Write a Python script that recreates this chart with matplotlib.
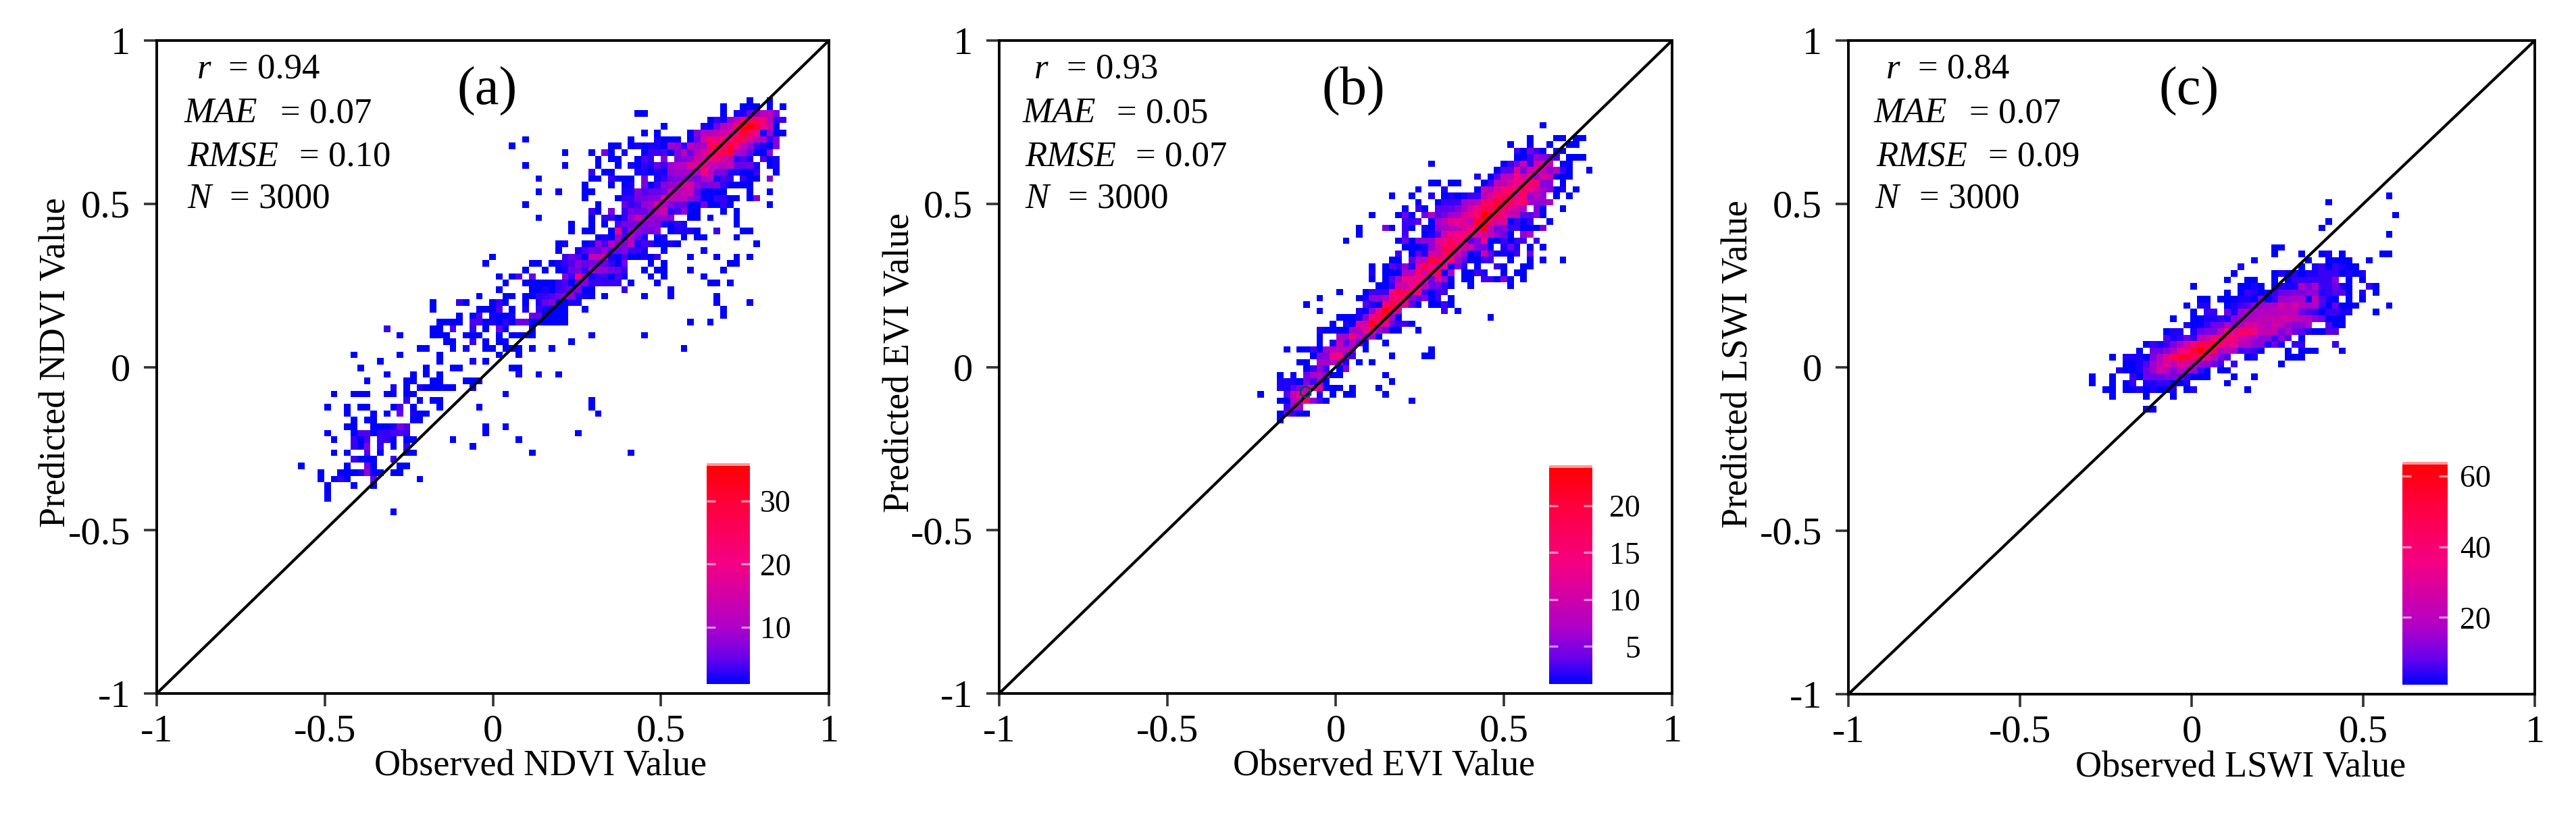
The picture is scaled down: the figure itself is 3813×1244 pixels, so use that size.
import numpy as np
import matplotlib
matplotlib.use("Agg")
import matplotlib.pyplot as plt
from matplotlib.colors import LinearSegmentedColormap, Normalize

plt.rcParams['font.family'] = ['Liberation Serif', 'DejaVu Serif']

W, H = 3813, 1244

# density cells: row -> "first_column:counts", one base-36 char per cell
ndvi_rows = {
    8: "87:1 90:1", 9: "83:1 86:111 90:1 92:1", 10: "70:11 83:1 85:2258bc6",
    11: "81:1328cmooma33", 12: "74:1 80:216bdowzuie1", 13: "71:1 73:1 78:17abcegmuqi2811",
    14: "53:1 69:1 73:2111 78:15gmimkqqgca37", 15: "51:1 66:11 69:121221983c9aosmumc83217",
    16: "59:1 63:1 65:61 68:2 71:133417b5bgooqua95118", 17: "64:1 66:11 70:143 74:7 76:678egkmgc342 89:412",
    18: "53:1 59:1 64:1 67:1 69:2132539abhhidcbd5562 90:12", 19: "63:3 65:11 70:221228999alc6622113 91:1",
    20: "55:1 63:11 66:3111 71:6 73:2367886ab243 86:311 90:6", 21: "62:1 66:1 68:12 71:613789gf866731111",
    22: "55:1 58:1 62:11 68:2274556dcde5111 83:1 87:1 90:1", 23: "62:1 67:1336677idbc86113311 87:17",
    24: "53:1 64:1 68:53489gb7551161131 90:1", 25: "63:31 66:6 68:36558cf34811 83:1 85:1",
    26: "55:1 63:1 65:33138e98887 78:11 81:1 85:1", 27: "60:1 63:1 65:1 67:46667872132 85:1",
    28: "60:1 62:11 66:1i388658 75:12221 82:3 86:11", 29: "64:12184b52 73:12 77:1 79:11 85:1",
    30: "58:12 62:1284a87c2431121 88:1", 31: "58:1 61:24658557332 74:1 80:1",
    32: "48:1 59:3541ddd21411213 78:1 82:1 85:1 87:1", 33: "47:1 54:11 57:123475665316 72:1 74:1 84:11",
    34: "53:1 56:1 58:12563988653 71:1 73:11 78:1 83:1", 35: "49:1 51:14 54:5 59:73i8233141 72:1 74:1 80:1",
    36: "50:1 53:11111 58:3415733333 69:1 73:1 81:11 84:1", 37: "49:1 54:1121345711 68:3 75:1",
    38: "46:1 50:11 53:11334688221 65:1 71:1 75:1 82:1", 39: "39:1 43:31 48:131 53:1 55:2571122 82:1 87:1",
    40: "39:1 46:111 49:4 51:1 53:2 55:32111 62:1 83:1", 41: "43:1 45:14 48:2112 54:551111 83:1",
    42: "40:1111 45:441213155111111 78:1 81:1", 43: "32:3 39:11 42:4 45:3 47:1 49:51 54:1",
    44: "34:1 39:111 44:111 49:1 51:1111 63:1 71:1", 45: "41:11 45:3 47:1 49:11 60:1",
    46: "37:11 42:1 44:2 47:11 50:111 54:1 57:1 77:1", 47: "27:1 34:1 40:1 49:1 52:1",
    48: "31:1 40:1 45:2 47:1", 49: "28:1 38:1 42:11 51:11", 50: "32:1 36:1 38:1 40:1 52:2 55:1 58:1",
    51: "29:1 35:11 39:11 44:111", 52: "33:2 35:1 37:211111 45:1", 53: "24:1 27:111 32:11 35:11 50:1",
    54: "35:3 37:1 39:11 63:1", 55: "23:1 26:1 28:11 33:14 36:1 40:1 46:1 63:1", 56: "26:1 30:1 32:1 34:5 36:211 64:1",
    57: "27:1 29:11 36:11", 58: "26:11 30:111 33:264 47:1 50:1", 59: "23:1 27:144 30:1 31:33 33:44 35:3 47:1 61:1",
    60: "24:1 27:314 31:331 35:11 42:1 52:1", 61: "27:317 31:3 33:1 35:3 45:1", 62: "24:1 26:1 29:4 31:1 35:11 54:1 69:1",
    63: "27:3111 33:3", 64: "19:1 26:1 29:61 34:11", 65: "22:1 25:111 28:2811 33:11", 66: "22:1 24:131 30:5 37:1",
    67: "23:1 27:1 30:1", 68: "23:1", 69: "23:1", 71: "33:1",
}

evi_rows = {
    -1: "43:1", 1: "41:1 45:11 48:11", 2: "38:1 41:1 44:1 47:11", 3: "39:31531 45:21", 4: "39:1137653 47:111",
    5: "26:1 37:135c3ceb 46:11", 6: "36:144f5dfb7931 50:1", 7: "33:2 35:14bahdg8ec111",
    8: "26:11 29:11 34:13aaegijk66 46:1", 9: "24:1 28:2 33:1c9eikhmhc8612 48:1",
    10: "20:1 23:1 26:2 28:121233aeklmfk7a7 45:1 47:1", 11: "24:1 27:133389alkqmmhk8778",
    12: "22:1 24:31 27:44468dhnmolec9 42:61 46:1", 13: "17:1 21:151 25:594588egjuqofbb4461",
    14: "22:334 26:18afgebqqmdf1313 44:1", 15: "15:1 19:51 22:31 25:21789aeimsb56331115",
    16: "15:1 22:3 25:124dghjieeb751 40:7a", 17: "13:1 21:151677fglih46g113133 42:3",
    18: "22:111 25:27dlmidc651 37:252 41:1 43:1", 19: "21:3 23:142cclnc712c51213 41:5",
    20: "20:11 23:49apmgh841133 38:1 41:1 43:1 46:1", 21: "17:1 19:14372fnhef262 33:1 36:31 40:11",
    22: "17:2 19:11199kdkm18 31:1132 37:1 39:11", 23: "17:1 19:148gghg5e81 31:11 34:33161 40:1",
    24: "18:113ccgib5531 32:1 38:1", 25: "12:1 16:1333ioklg3133", 26: "9:1 15:12779ijm64613 29:1",
    27: "7:1 16:421kokf41 26:1131", 28: "9:1 15:217gume 28:3 30:1", 29: "12:11126imo81 35:1",
    30: "11:1 13:21eesjf4331", 31: "9:2111189gg8511 24:1", 32: "9:1 12:88i9881", 33: "9:1 11:2b4961 19:1",
    34: "4:1 6:11 8:3189aa8 16:1 26:1", 35: "8:166gh53 20:1 25:11", 36: "6:11 9:88972 15:1 17:1",
    37: "7:1373 12:16", 38: "3:1 5:1 7:599711 19:1", 39: "3:22216381 20:1", 40: "3:2246cff111 14:1 18:1",
    41: "0:1 4:4cga 9:2 11:1 13:11 19:1", 42: "3:11ack731 23:1", 43: "4:388", 44: "3:15311", 45: "3:1",
}

lswi_rows = {
    0: "45:1", 1: "36:1", 3: "46:1", 4: "36:1", 5: "35:1", 6: "45:1", 8: "28:11",
    9: "28:1 32:1 35:12 38:1 44:11", 10: "25:1 33:1 36:1111 42:1", 11: "23:2 32:1 34:2313211",
    12: "22:1 28:12121223331212", 13: "21:1 24:11 28:1 30:13333337 39:1 41:1",
    14: "16:1 23:1121 28:122296933521 42:31", 15: "21:1 23:13212355667723441 41:2 43:1",
    16: "17:11 20:11122161388992b421 39:1 41:1", 17: "15:1 17:22 21:12347899ebea99315111 45:1",
    18: "16:1 18:33 21:52899aaabbb54313322 43:1", 19: "13:1 16:11 18:2232789abccdecba75111",
    20: "15:21135597aefcaec8779 36:411", 21: "12:122 16:2566bkgmmiccc695421144",
    22: "12:42353bdkmmjfc977374 32:1", 23: "9:132369elpptmggaa77252 31:33 37:3",
    24: "8:1 10:5579hkrxqq9c93431 30:1 32:111 38:1", 25: "4:1 6:22216afossomkb64 24:12 30:111",
    26: "6:11248chbgea8753 22:3 29:1", 27: "5:211258eb7a9831 20:11", 28: "1:1 4:1 7:315556653111 22:1 25:1",
    29: "1:1 4:1 6:13 9:2233112 21:1", 30: "3:11 6:11212112 15:12 24:1", 31: "4:1 9:1 13:1", 33: "9:11",
}

panel_rows = [ndvi_rows, evi_rows, lswi_rows]
index_names = ['NDVI', 'EVI', 'LSWI']
panel_tags = ['(a)', '(b)', '(c)']
r_values = ['0.94', '0.93', '0.84']
mae_values = ['0.07', '0.05', '0.07']
rmse_values = ['0.10', '0.07', '0.09']
n_values = ['3000', '3000', '3000']

# bin grid of each panel: x of column 0, width, y of top of row 0, height
grid_x0 = [-0.9534, -0.2329, -0.3183]
grid_dx = [0.01964, 0.01954, 0.01965]
grid_y0 = [0.987, 0.7301, 0.5351]
grid_dy = [0.0200, 0.01961, 0.01979]
full_char = [35, 30, 33]       # brightest char used in each panel's rows
count_top = [36, 24.3, 64]     # top of each colour bar
cbar_ticks = [[10, 20, 30], [5, 10, 15, 20], [20, 40, 60]]

axis_ticks = [-1, -0.5, 0, 0.5, 1]
axis_labels = ['-1', '-0.5', '0', '0.5', '1']

# little hexagon left on top of panel (b)
stray_x, stray_y = -0.09, -0.075

# layout in pixels of the target image
ax_boxes = [(232, 1227, 60, 1027), (1479, 2475, 60, 1027), (2736, 3752, 60, 1028)]
cb_boxes = [(1046, 1110, 686, 1013), (2293, 2357, 689, 1013), (3556, 3623, 684, 1014)]
cb_label_right = [1171, 2428, 3687]
xlabel_pos = [(800, 1135), (2049, 1135), (3317, 1137)]
ylabel_pos = [(83, 537), (1332, 537), (2573, 539)]
tag_pos = [(721, 155), (2003, 155), (3240, 155)]
stat_base = [116, 181, 245, 308]
stat_name_x = [[292, 273, 277, 277], [1531, 1514, 1517, 1517], [2792, 2774, 2777, 2775]]
stat_eq_x = [[338, 415, 443, 340], [1579, 1653, 1681, 1581], [2839, 2915, 2943, 2841]]

cmap = LinearSegmentedColormap.from_list('bar', [
    (0.0, (0, 0, 1)), (0.12, (0.42, 0, 0.92)), (0.26, (0.69, 0, 0.78)),
    (0.55, (0.96, 0, 0.51)), (0.83, (1, 0, 0.22)), (1.0, (1, 0, 0))])


def parse_rows(rows, full, top):
    # rows -> masked count matrix, plus the first row index
    first = min(rows)
    last = max(rows)
    m = np.full((last - first + 1, 100), np.nan)
    for row, text in rows.items():
        for token in text.split():
            col, chars = token.split(':')
            col = int(col)
            for k, ch in enumerate(chars):
                v = int(ch, 36)
                m[row - first, col + k] = 1 + (v - 1) * (top - 1) / (full - 1)
    return np.ma.masked_invalid(m), first


def px_box(l, r, t, b):
    return [l / W, 1 - b / H, (r - l) / W, (b - t) / H]


def fig_text(x, y, s, **kw):
    fig.text(x / W, 1 - y / H, s, **kw)


fig = plt.figure(figsize=(W / 100, H / 100), dpi=100, facecolor='white')

for i in range(3):
    ax = fig.add_axes(px_box(*ax_boxes[i]))
    counts, first = parse_rows(panel_rows[i], full_char[i], count_top[i])
    x_edges = grid_x0[i] + grid_dx[i] * np.arange(counts.shape[1] + 1)
    y_edges = grid_y0[i] - grid_dy[i] * (first + np.arange(counts.shape[0] + 1))
    norm = Normalize(vmin=1, vmax=count_top[i])
    mesh = ax.pcolormesh(x_edges, y_edges, counts, cmap=cmap, norm=norm, linewidth=0, rasterized=True)
    ax.plot([-1, 1], [-1, 1], color='black', lw=3.0, solid_capstyle='butt')
    if i == 1:
        ax.plot([stray_x], [stray_y], marker='h', ms=12, mfc='none', mec='#0b4a5a', mew=2.2)
    ax.set_xlim(-1, 1)
    ax.set_ylim(-1, 1)
    ax.set_xticks(axis_ticks)
    ax.set_xticklabels(axis_labels)
    ax.set_yticks(axis_ticks)
    ax.set_yticklabels(axis_labels)
    ax.tick_params(axis='both', direction='out', length=14, width=2.6, color='#333333',
                   labelsize=42)
    ax.tick_params(axis='x', pad=8)
    ax.tick_params(axis='y', pad=14)
    for s in ax.spines.values():
        s.set_linewidth(2.8)

    fig_text(xlabel_pos[i][0], xlabel_pos[i][1], 'Observed %s Value' % index_names[i],
             fontsize=39, ha='center', va='center')
    fig_text(ylabel_pos[i][0], ylabel_pos[i][1], 'Predicted %s Value' % index_names[i],
             fontsize=39, ha='center', va='center', rotation=90)
    fig_text(tag_pos[i][0], tag_pos[i][1], panel_tags[i], fontsize=58, ha='center', va='baseline')

    names = ['r', 'MAE', 'RMSE', 'N']
    vals = [r_values[i], mae_values[i], rmse_values[i], n_values[i]]
    for k in range(4):
        fig_text(stat_name_x[i][k], stat_base[k], names[k], fontsize=38, style='italic', va='baseline')
        fig_text(stat_eq_x[i][k], stat_base[k], '= ' + vals[k], fontsize=38, va='baseline')

    cax = fig.add_axes(px_box(*cb_boxes[i]))
    cb = fig.colorbar(mesh, cax=cax, ticks=cbar_ticks[i])
    cb.outline.set_visible(False)
    cax.tick_params(axis='y', direction='in', left=True, right=True, length=9.5, width=2.4,
                    color=(1, 1, 1, 0.55), labelsize=33,
                    pad=(cb_label_right[i] - cb_boxes[i][1]) * 0.72)
    for t in cax.get_yticklabels():
        t.set_ha('right')
    cax.axhline(count_top[i], color=(1, 1, 1, 0.6), lw=5)

fig.savefig('out.png', dpi=100)
